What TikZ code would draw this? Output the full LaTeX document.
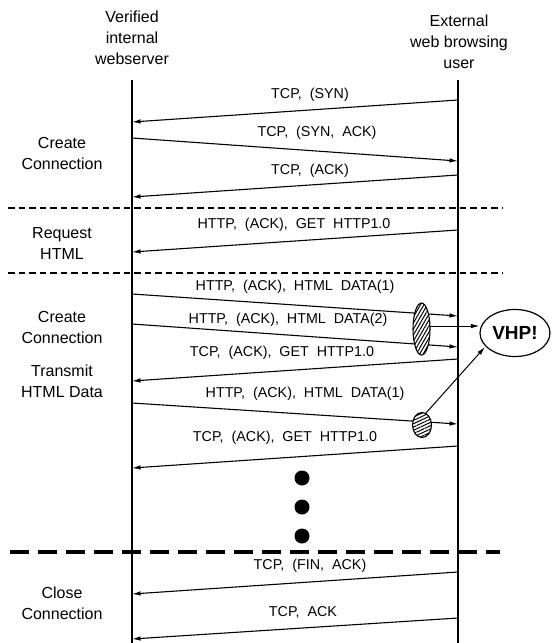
\documentclass[tikz,border=0pt]{standalone}
\usepackage{fontspec}
\setmainfont{Liberation Sans}
\newfontfamily\msgfont{Liberation Sans}[WordSpace=2.0]
\usetikzlibrary{arrows.meta,shapes.geometric,patterns.meta}
\begin{document}
\begin{tikzpicture}[x=1pt,y=-1pt,
  life/.style={line width=1.3pt},
  msg/.style={line width=1.1pt,-{Latex[length=8.5pt,width=4.5pt]}},
  msglabel/.style={inner sep=0pt,font=\msgfont\fontsize{14.3}{16}\selectfont},
  hdr/.style={inner sep=0pt,align=center,font=\fontsize{16}{21}\selectfont},
  thindash/.style={line width=1.6pt,dash pattern=on 6.5pt off 4pt},
  thickdash/.style={line width=4.5pt,dash pattern=on 19pt off 9pt},
  dotnode/.style={circle,fill=black,inner sep=0pt,minimum size=15pt},
  hatch/.style={ellipse,draw,line width=1.1pt,inner sep=0pt,preaction={fill=white}},
  vhpbox/.style={ellipse,draw,line width=1.2pt,inner sep=0pt,minimum width=70pt,minimum height=47pt,font=\bfseries\fontsize{19}{21}\selectfont},
  ptr/.style={line width=1pt,-{Latex[length=8.5pt,width=4.5pt]}}
]
\useasboundingbox (0,0) rectangle (552,643);

% headers
\node[hdr] (hserver) at (132,38) {Verified\\internal\\webserver};
\node[hdr] (huser) at (459,42) {External\\web browsing\\user};

% lifelines
\coordinate (Ltop) at (132,80);
\coordinate (Lbot) at (132,643);
\coordinate (Rtop) at (458,80);
\coordinate (Rbot) at (458,643);
\draw[life] (Ltop) -- (Lbot);
\draw[life] (Rtop) -- (Rbot);

% phase labels
\node[hdr] (p1) at (62,153) {Create\\Connection};
\node[hdr] (p2) at (62,243) {Request\\HTML};
\node[hdr] (p3) at (62,327) {Create\\Connection};
\node[hdr] (p4) at (62,381) {Transmit\\HTML Data};
\node[hdr] (p5) at (62,603) {Close\\Connection};

% separators
\coordinate (s1a) at (8,208);  \coordinate (s1b) at (502,208);
\coordinate (s2a) at (8,273);  \coordinate (s2b) at (502,273);
\coordinate (s3a) at (10,552); \coordinate (s3b) at (500,552);
\draw[thindash] (s1a) -- (s1b);
\draw[thindash] (s2a) -- (s2b);
\draw[thickdash] (s3a) -- (s3b);

% messages
\coordinate (m1a) at (458,100); \coordinate (m1b) at (132,122);
\draw[msg] (m1a) -- (m1b);
\node[msglabel] (t1) at (310,95) {TCP, (SYN)};

\coordinate (m2a) at (132,138); \coordinate (m2b) at (458,161);
\draw[msg] (m2a) -- (m2b);
\node[msglabel] (t2) at (317,133) {TCP, (SYN, ACK)};

\coordinate (m3a) at (458,175); \coordinate (m3b) at (132,197);
\draw[msg] (m3a) -- (m3b);
\node[msglabel] (t3) at (310,171) {TCP, (ACK)};

\coordinate (m4a) at (458,230); \coordinate (m4b) at (132,252);
\draw[msg] (m4a) -- (m4b);
\node[msglabel] (t4) at (294,225) {HTTP, (ACK), GET HTTP1.0};

\coordinate (m5a) at (132,294); \coordinate (m5b) at (458,316);
\draw[msg] (m5a) -- (m5b);
\node[msglabel] (t5) at (295,287) {HTTP, (ACK), HTML DATA(1)};

\coordinate (m6a) at (132,324); \coordinate (m6b) at (458,347);
\draw[msg] (m6a) -- (m6b);
\node[msglabel] (t6) at (288,320) {HTTP, (ACK), HTML DATA(2)};

\coordinate (m7a) at (458,359); \coordinate (m7b) at (132,381);
\draw[msg] (m7a) -- (m7b);
\node[msglabel] (t7) at (282,353) {TCP, (ACK), GET HTTP1.0};

\coordinate (m8a) at (132,403); \coordinate (m8b) at (458,424);
\draw[msg] (m8a) -- (m8b);
\node[msglabel] (t8) at (305,394) {HTTP, (ACK), HTML DATA(1)};

\coordinate (m9a) at (458,446); \coordinate (m9b) at (132,468);
\draw[msg] (m9a) -- (m9b);
\node[msglabel] (t9) at (285,438) {TCP, (ACK), GET HTTP1.0};

\coordinate (m10a) at (458,572); \coordinate (m10b) at (132,594);
\draw[msg] (m10a) -- (m10b);
\node[msglabel] (t10) at (310,566) {TCP, (FIN, ACK)};

\coordinate (m11a) at (458,618); \coordinate (m11b) at (132,639);
\draw[msg] (m11a) -- (m11b);
\node[msglabel] (t11) at (303,612) {TCP, ACK};

% continuation dots
\node[dotnode] (d1) at (302,478) {};
\node[dotnode] (d2) at (302,507) {};
\node[dotnode] (d3) at (302,536) {};

% hatched captures
\node[hatch,minimum width=17pt,minimum height=52pt,pattern={Lines[angle=60,distance=3pt,line width=1pt]}] (e1) at (421.5,329) {};
\node[hatch,minimum width=19pt,minimum height=25pt,pattern={Lines[angle=25,distance=3pt,line width=1pt]}] (e2) at (422,425) {};

% VHP
\node[vhpbox] (vhp) at (515,333) {VHP!};
\coordinate (a1) at (430,326);
\draw[ptr] (a1) -- (a1 -| vhp.west);
\coordinate (b1) at (426,413);
\coordinate (b2) at (485,347);
\draw[ptr] (b1) -- (b2);
\end{tikzpicture}
\end{document}
